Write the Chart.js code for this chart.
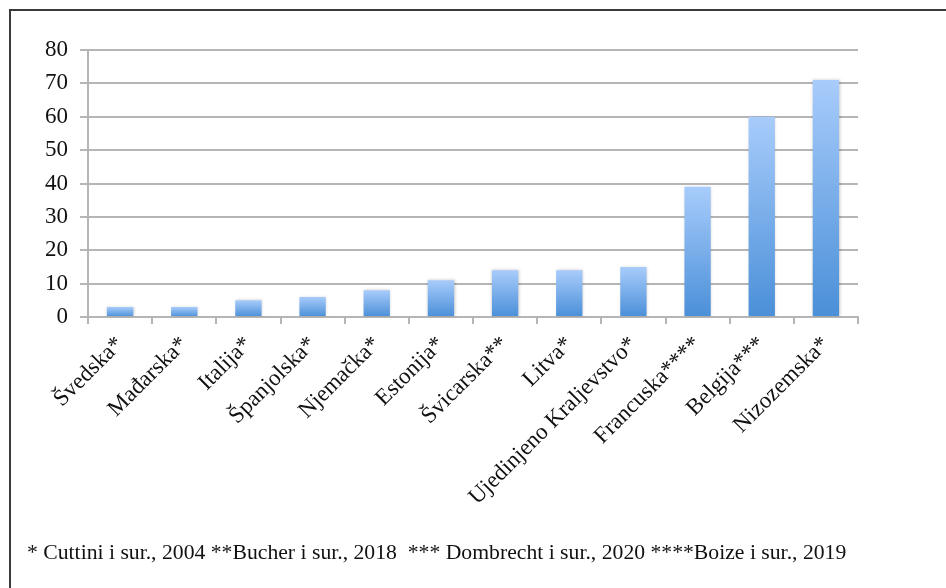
<!DOCTYPE html>
<html>
<head>
<meta charset="utf-8">
<script src="https://cdn.jsdelivr.net/npm/chart.js@4"></script>
<style>
  html, body { margin: 0; padding: 0; background: #fff; }
  #wrap { position: relative; width: 946px; height: 588px; overflow: hidden; }
  #frame { position: absolute; left: 9px; top: 9px; right: -4px; bottom: -4px;
           border-left: 2px solid #3a3a3a; border-top: 2px solid #3a3a3a; }
  #note { position: absolute; left: 27px; top: 540px; font-family: "Liberation Serif", serif;
          font-size: 21.7px; color: #111; white-space: pre; }
  canvas { position: absolute; left: 0; top: 0; }
</style>
</head>
<body>
<div id="wrap">
  <div id="frame"></div>
  <canvas id="chart" width="946" height="588"></canvas>
  <div id="note">* Cuttini i sur., 2004 **Bucher i sur., 2018  *** Dombrecht i sur., 2020 ****Boize i sur., 2019</div>
</div>
<script>
const countries = [
  "Švedska*", "Mađarska*", "Italija*", "Španjolska*", "Njemačka*", "Estonija*",
  "Švicarska**", "Litva*", "Ujedinjeno Kraljevstvo*", "Francuska****", "Belgija***", "Nizozemska*"
];
const values = [3, 3, 5, 6, 8, 11, 14, 14, 15, 39, 60, 71];
const yTicks = [0, 10, 20, 30, 40, 50, 60, 70, 80];

const gridColor = "#b5b5b5";
const serif = "'Liberation Serif', 'Times New Roman', serif";

function barGradient(context) {
  const chart = context.chart;
  const { ctx, chartArea, scales } = chart;
  if (!chartArea || context.raw === undefined) return "#7aaee8";
  const top = scales.y.getPixelForValue(context.raw);
  const bottom = scales.y.getPixelForValue(0);
  const g = ctx.createLinearGradient(0, top, 0, bottom);
  g.addColorStop(0, "#a8ccfb");
  g.addColorStop(1, "#4a8fd8");
  return g;
}

const barShadow = {
  id: "barShadow",
  beforeDatasetsDraw(chart) {
    const ctx = chart.ctx;
    ctx.save();
    ctx.shadowColor = "rgba(0,0,0,0.22)";
    ctx.shadowBlur = 3;
    ctx.shadowOffsetX = 0.5;
    ctx.shadowOffsetY = 0;
  },
  afterDatasetsDraw(chart) {
    chart.ctx.restore();
  }
};

new Chart(document.getElementById("chart"), {
  type: "bar",
  data: {
    labels: countries,
    datasets: [{
      data: values,
      backgroundColor: barGradient,
      borderWidth: 0,
      categoryPercentage: 1,
      barPercentage: 0.41
    }]
  },
  options: {
    responsive: false,
    animation: false,
    devicePixelRatio: 1,
    layout: { padding: { left: 0, right: 88, top: 50, bottom: 71 } },
    plugins: { legend: { display: false }, tooltip: { enabled: false } },
    scales: {
      x: {
        afterFit(scale) { scale.height = 200; },
        grid: { drawOnChartArea: false, color: gridColor, lineWidth: 2, tickLength: 7, offset: true },
        border: { color: gridColor, width: 2 },
        ticks: {
          color: "#111",
          font: { family: serif, size: 23 },
          minRotation: 45,
          maxRotation: 45,
          autoSkip: false,
          padding: 7
        }
      },
      y: {
        min: 0,
        max: 80,
        afterFit(scale) { scale.width = 88; },
        afterBuildTicks(scale) { scale.ticks = yTicks.map(v => ({ value: v })); },
        grid: { color: gridColor, lineWidth: 2, tickLength: 8 },
        border: { color: gridColor, width: 2 },
        ticks: {
          color: "#111",
          font: { family: serif, size: 23 },
          padding: 12
        }
      }
    }
  },
  plugins: [barShadow]
});
</script>
</body>
</html>
